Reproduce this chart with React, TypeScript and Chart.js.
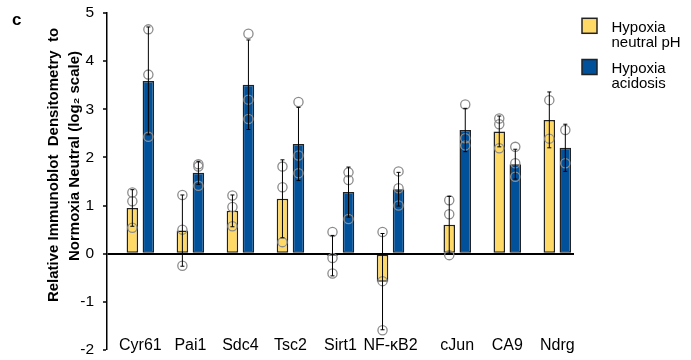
import React, { useEffect, useRef } from 'react';
import { Chart, registerables } from 'chart.js';

Chart.register(...registerables);

// ---- data ----
const categories = ['Cyr61', 'Pai1', 'Sdc4', 'Tsc2', 'Sirt1', 'NF-κB2', 'cJun', 'CA9', 'Ndrg'];
const neutralMean = [0.95, 0.48, 0.89, 1.14, -0.04, -0.58, 0.6, 2.54, 2.78];
const neutralErr = [0.38, 0.74, 0.33, 0.81, 0.42, 1.0, 0.59, 0.32, 0.58];
const acidMean = [3.59, 1.68, 3.51, 2.28, 1.28, 1.34, 2.57, 1.86, 2.2];
const acidErr = [1.12, 0.24, 0.93, 0.76, 0.52, 0.35, 0.45, 0.31, 0.49];
const neutralPoints = [
  [1.27, 1.09, 0.54],
  [1.22, 0.5, -0.25],
  [1.21, 0.97, 0.57],
  [1.81, 1.38, 0.24],
  [0.45, -0.09, -0.41],
  [0.45, -0.57, -1.59],
  [1.11, 0.82, -0.03],
  [2.81, 2.69, 2.19],
  [3.19, 2.39],
];
const acidPoints = [
  [4.66, 3.72, 2.43],
  [1.86, 1.81, 1.41],
  [4.57, 3.2, 2.8],
  [3.15, 2.04, 1.67],
  [1.69, 1.53, 0.72],
  [1.71, 1.36, 1.0],
  [3.1, 2.4, 2.25],
  [2.22, 1.88, 1.6],
  [2.57, 1.88],
];
const seriesNames = [['Hypoxia', 'neutral pH'], ['Hypoxia', 'acidosis']];
const yMin = -2;
const yMax = 5;
const yStep = 1;
const yTitleLines = ['Relative Immunoblot  Densitometry  to', 'Normoxia Neutral (log₂ scale)'];
const panelLabel = 'c';

// ---- layout (slot grid to reproduce the wider gap before cJun) ----
const SLOTS = [2, 5, 8, 11, 14, 17, 21, 24, 27];
const N_SLOTS = 29;

const YELLOW = '#FFD966';
const BLUE = '#00509A';
const BORDER = '#222222';
const FONT = '"Liberation Sans", Arial, sans-serif';

function spread(values: number[]): (number | null)[] {
  const out: (number | null)[] = new Array(N_SLOTS).fill(null);
  SLOTS.forEach((s, i) => (out[s] = values[i]));
  return out;
}

const overlayPlugin = {
  id: 'overlay',
  afterDatasetsDraw(chart: any) {
    const ctx = chart.ctx;
    const ys = chart.scales.y;
    const groups = [
      { means: neutralMean, errs: neutralErr, pts: neutralPoints },
      { means: acidMean, errs: acidErr, pts: acidPoints },
    ];
    groups.forEach((g, d) => {
      const meta = chart.getDatasetMeta(d);
      SLOTS.forEach((slot, i) => {
        const bar = meta.data[slot];
        if (!bar) return;
        const x = bar.x;
        ctx.save();
        ctx.strokeStyle = '#8c8c8c';
        ctx.lineWidth = 1.3;
        g.pts[i].forEach((v) => {
          ctx.beginPath();
          ctx.arc(x, ys.getPixelForValue(v), 4.6, 0, Math.PI * 2);
          ctx.stroke();
        });
        const top = ys.getPixelForValue(g.means[i] + g.errs[i]);
        const bot = ys.getPixelForValue(g.means[i] - g.errs[i]);
        ctx.strokeStyle = '#000';
        ctx.lineWidth = 1;
        ctx.beginPath();
        ctx.moveTo(x, top);
        ctx.lineTo(x, bot);
        ctx.moveTo(x - 2, top);
        ctx.lineTo(x + 2, top);
        ctx.moveTo(x - 2, bot);
        ctx.lineTo(x + 2, bot);
        ctx.stroke();
        ctx.restore();
      });
    });
  },
  afterDraw(chart: any) {
    const ctx = chart.ctx;
    const xs = chart.scales.x;
    ctx.save();
    // category labels (drawn inside plot, at bottom)
    ctx.fillStyle = '#000';
    ctx.font = `16px ${FONT}`;
    ctx.textAlign = 'center';
    ctx.textBaseline = 'alphabetic';
    SLOTS.forEach((slot, i) => {
      ctx.fillText(categories[i], xs.getPixelForValue(slot), 350);
    });
    // y title
    ctx.font = `bold 15px ${FONT}`;
    ctx.textAlign = 'center';
    const baselines = [58, 78.5];
    const centers = [165, 156];
    yTitleLines.forEach((t, i) => {
      ctx.save();
      ctx.translate(baselines[i], centers[i]);
      ctx.rotate(-Math.PI / 2);
      ctx.fillText(t, 0, 0);
      ctx.restore();
    });
    // panel label
    ctx.font = `bold 17px ${FONT}`;
    ctx.textAlign = 'left';
    ctx.fillText(panelLabel, 12, 25);
    // legend
    const colors = [YELLOW, BLUE];
    const boxTops = [18.3, 59.5];
    ctx.font = `15px ${FONT}`;
    seriesNames.forEach((lines, i) => {
      ctx.fillStyle = colors[i];
      ctx.fillRect(582, boxTops[i], 15, 15);
      ctx.strokeStyle = BORDER;
      ctx.lineWidth = 1.5;
      ctx.strokeRect(582, boxTops[i], 15, 15);
      ctx.fillStyle = '#000';
      lines.forEach((l, j) => {
        ctx.fillText(l, 611.5, boxTops[i] + 13.3 + j * 15);
      });
    });
    ctx.restore();
  },
};

export default function App() {
  const ref = useRef<HTMLCanvasElement | null>(null);
  useEffect(() => {
    if (!ref.current) return;
    const labels = new Array(N_SLOTS).fill('');
    SLOTS.forEach((s, i) => (labels[s] = categories[i]));
    const chart = new Chart(ref.current, {
      type: 'bar',
      data: {
        labels,
        datasets: [
          {
            label: seriesNames[0].join(' '),
            data: spread(neutralMean),
            backgroundColor: YELLOW,
            borderColor: BORDER,
            borderWidth: 1.5,
            borderSkipped: false,
            categoryPercentage: 1.92,
            barPercentage: 0.72,
          },
          {
            label: seriesNames[1].join(' '),
            data: spread(acidMean),
            backgroundColor: BLUE,
            borderColor: BORDER,
            borderWidth: 1.5,
            borderSkipped: false,
            categoryPercentage: 1.92,
            barPercentage: 0.72,
          },
        ],
      },
      options: {
        responsive: false,
        animation: false,
        devicePixelRatio: 1,
        layout: { padding: { left: 0, right: 117, top: 13, bottom: 10 } },
        plugins: { legend: { display: false }, tooltip: { enabled: false } },
        scales: {
          x: {
            type: 'category',
            display: false,
            offset: false,
          },
          y: {
            min: yMin,
            max: yMax,
            afterFit: (scale: any) => {
              scale.width = 107;
              scale.paddingTop = 0;
              scale.paddingBottom = 0;
            },
            ticks: {
              stepSize: yStep,
              color: '#000',
              font: { family: FONT, size: 15.5 },
              padding: 9,
            },
            grid: {
              drawTicks: true,
              tickLength: 4,
              tickColor: '#000',
              tickWidth: 1.5,
              lineWidth: (c: any) => (c.tick && c.tick.value === 0 ? 2 : 0),
              color: (c: any) => (c.tick && c.tick.value === 0 ? '#000' : 'rgba(0,0,0,0)'),
            },
            border: { display: true, color: '#000', width: 1.5 },
          },
        },
      },
      plugins: [overlayPlugin],
    });
    return () => chart.destroy();
  }, []);
  return (
    <div style={{ position: 'absolute', left: 0, top: 0, width: 691, height: 360, background: '#fff' }}>
      <canvas ref={ref} width={691} height={360} style={{ width: 691, height: 360, display: 'block' }} />
    </div>
  );
}
